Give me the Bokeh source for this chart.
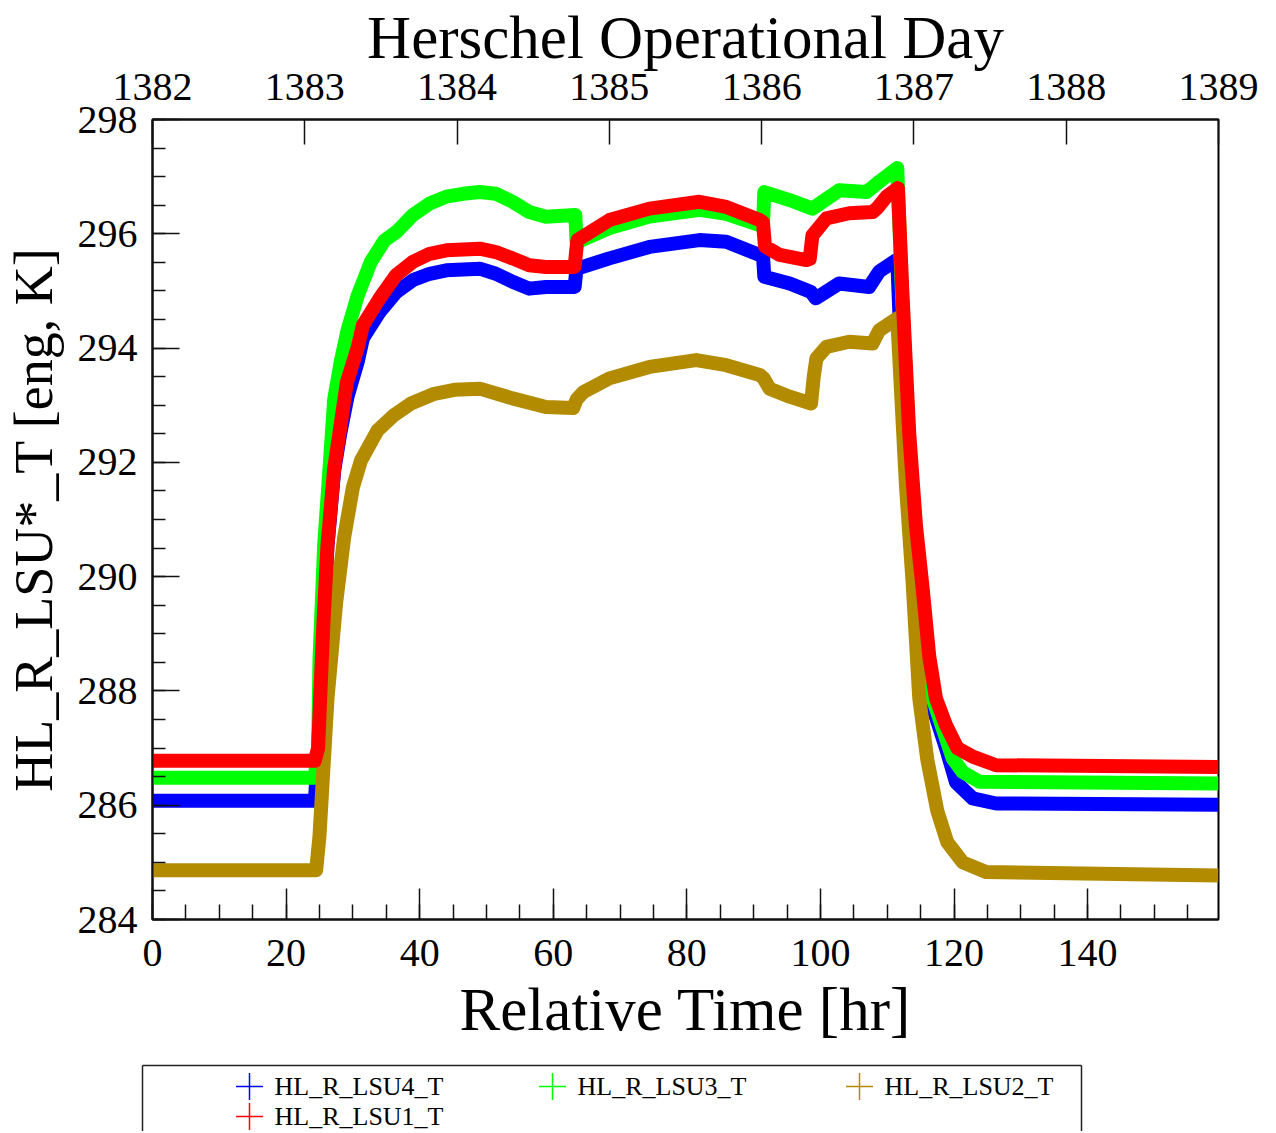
from bokeh.plotting import figure
from bokeh.models import (Range1d, LinearAxis, FixedTicker, SingleIntervalTicker,
                          ColumnDataSource)
from bokeh.embed import file_html
from bokeh.resources import INLINE
from bokeh.core.properties import value

# ---------------- data ----------------
lsu4_t = [0, 24.3, 24.8, 25.1, 25.6, 26.2, 27.2, 28.1, 29.2, 30.7,
          31.5, 34.0, 36.5, 39.0, 41.5, 44.0, 49.0, 51.4, 53.9, 56.4,
          58.9, 63.2, 63.4, 63.6, 68.4, 74.4, 81.9, 85.9, 90.9, 91.4,
          91.6, 95.4, 98.6, 99.3, 102.8, 107.3, 108.8, 111.5, 112.1, 113.3,
          114.8, 116.3, 118.8, 120.3, 122.8, 126.3, 159.6]
lsu4_T = [286.08, 286.08, 286.9, 287.87, 289.21, 290.55, 291.85, 292.5, 293.15, 293.75,
          294.17, 294.63, 294.98, 295.19, 295.30, 295.36, 295.39, 295.30, 295.16, 295.04,
          295.07, 295.07, 295.30, 295.39, 295.57, 295.77, 295.89, 295.86, 295.63, 295.62,
          295.25, 295.13, 294.98, 294.87, 295.13, 295.07, 295.34, 295.55, 293.8, 291.5,
          289.7, 287.9, 287.0, 286.4, 286.12, 286.03, 286.01]

lsu3_t = [0, 24.3, 24.8, 25.0, 25.7, 26.5, 27.2, 28.2, 29.2, 30.7,
          32.7, 34.7, 36.5, 39.0, 41.5, 44.0, 46.5, 49.0, 51.4, 53.9,
          56.4, 58.9, 63.3, 63.5, 68.4, 74.4, 81.9, 85.9, 90.9, 91.4,
          91.6, 95.4, 98.8, 102.8, 106.9, 108.8, 111.5, 112.2, 113.3, 114.3,
          115.3, 116.8, 119.8, 121.3, 123.8, 159.6]
lsu3_T = [286.48, 286.48, 287.0, 288.54, 290.55, 291.89, 293.10, 293.77, 294.31, 294.91,
          295.51, 295.88, 296.03, 296.33, 296.53, 296.65, 296.70, 296.73, 296.70, 296.56,
          296.38, 296.30, 296.33, 295.85, 296.10, 296.30, 296.42, 296.35, 296.15, 296.15,
          296.73, 296.59, 296.44, 296.76, 296.73, 296.91, 297.15, 295.0, 292.3, 290.7,
          289.5, 287.87, 286.82, 286.58, 286.41, 286.38]

lsu2_t = [0, 24.5, 25.0, 26.2, 27.5, 28.7, 30.0, 31.2, 33.7, 36.2,
          38.7, 42.2, 45.2, 49.0, 53.9, 58.9, 63.0, 63.5, 64.5, 68.4,
          74.4, 81.4, 85.9, 90.9, 91.5, 92.4, 95.4, 98.6, 99.0, 99.4,
          100.9, 104.3, 107.8, 108.8, 111.5, 112.0, 112.8, 113.8, 114.8, 116.0,
          117.5, 119.0, 121.3, 124.8, 159.6]
lsu2_T = [284.86, 284.86, 285.46, 287.87, 289.55, 290.69, 291.56, 292.03, 292.56, 292.83,
          293.03, 293.20, 293.27, 293.29, 293.12, 292.97, 292.95, 293.10, 293.23, 293.47,
          293.67, 293.79, 293.70, 293.53, 293.47, 293.29, 293.15, 293.03, 293.50, 293.82,
          294.02, 294.11, 294.08, 294.31, 294.52, 293.4, 291.6, 289.9, 287.87, 286.8,
          285.9, 285.35, 285.0, 284.83, 284.77]

lsu1_t = [0, 24.3, 24.8, 25.1, 25.6, 26.2, 27.2, 28.1, 29.1, 30.7,
          31.5, 34.0, 36.5, 39.0, 41.5, 44.0, 49.0, 51.4, 53.9, 56.4,
          58.9, 63.2, 63.6, 68.4, 74.4, 81.9, 85.9, 90.9, 91.4, 91.7,
          93.9, 97.9, 98.4, 98.8, 100.9, 104.3, 107.8, 108.5, 109.9, 111.6,
          112.3, 113.3, 114.3, 115.3, 116.3, 117.3, 118.8, 120.5, 122.8, 126.3,
          159.6]
lsu1_T = [286.78, 286.78, 287.0, 287.87, 289.21, 290.55, 291.89, 292.6, 293.4, 294.0,
          294.4, 294.87, 295.28, 295.51, 295.65, 295.71, 295.74, 295.68, 295.57, 295.45,
          295.42, 295.42, 295.89, 296.24, 296.44, 296.56, 296.47, 296.24, 296.20, 295.78,
          295.63, 295.54, 295.56, 295.97, 296.27, 296.36, 296.38, 296.45, 296.65, 296.80,
          294.9, 292.5, 290.9, 289.8, 288.6, 287.87, 287.4, 287.0, 286.85, 286.7,
          286.67]

series_names = ["HL_R_LSU4_T", "HL_R_LSU3_T", "HL_R_LSU2_T", "HL_R_LSU1_T"]
series_colors = ["#0000FF", "#00FF00", "#B38B00", "#FF0000"]
series_t = [lsu4_t, lsu3_t, lsu2_t, lsu1_t]
series_T = [lsu4_T, lsu3_T, lsu2_T, lsu1_T]

day_ticks = [1382, 1383, 1384, 1385, 1386, 1387, 1388, 1389]
x_title = "Relative Time [hr]"
y_title = "HL_R_LSU*_T [eng, K]"
top_title = "Herschel Operational Day"

FONT = "Liberation Serif"

# ---------------- main plot ----------------
p = figure(frame_width=1066, frame_height=800,
           x_range=Range1d(0, 159.6), y_range=Range1d(284, 298),
           x_axis_type=None, y_axis_type=None,
           output_backend="svg", toolbar_location=None,
           min_border_left=145, min_border_right=49,
           min_border_top=113, min_border_bottom=136)
p.outline_line_color = "black"
p.outline_line_width = 2
p.background_fill_color = "white"
p.border_fill_color = "white"
p.extra_x_ranges = {"day": Range1d(day_ticks[0], day_ticks[-1])}


def style_axis(ax, maj_in, min_in, title_size):
    ax.axis_line_color = "#111111"
    ax.axis_line_width = 2
    ax.major_tick_in = maj_in
    ax.major_tick_out = 0
    ax.minor_tick_in = min_in
    ax.minor_tick_out = 0
    ax.major_tick_line_color = "#111111"
    ax.major_tick_line_width = 1.5
    ax.minor_tick_line_color = "#111111"
    ax.minor_tick_line_width = 1.5
    ax.major_label_text_font = FONT
    ax.major_label_text_font_size = "40px"
    ax.major_label_text_color = "black"
    ax.axis_label_text_font = FONT
    ax.axis_label_text_font_size = title_size
    ax.axis_label_text_font_style = "normal"
    ax.axis_label_text_color = "black"


xb = LinearAxis(ticker=SingleIntervalTicker(interval=20, num_minor_ticks=4), axis_label=x_title)
style_axis(xb, 31, 15, "61px")
xb.major_label_standoff = 20
xb.axis_label_standoff = 7
p.add_layout(xb, "below")

yl = LinearAxis(ticker=SingleIntervalTicker(interval=2, num_minor_ticks=4), axis_label=y_title)
style_axis(yl, 27, 13, "54px")
yl.major_label_standoff = 15
yl.axis_label_standoff = 11
p.add_layout(yl, "left")

xt = LinearAxis(x_range_name="day", ticker=FixedTicker(ticks=day_ticks, minor_ticks=[]), axis_label=top_title)
style_axis(xt, 25, 0, "61px")
xt.major_label_standoff = 20
xt.axis_label_standoff = 0
p.add_layout(xt, "above")

for name, tt, TT, col in zip(series_names, series_t, series_T, series_colors):
    src = ColumnDataSource(dict(t=tt, T=TT))
    p.line("t", "T", source=src, line_color=col, line_width=14, line_join="round")

# ---------------- legend strip (second root; ranges in page pixels) ----------------
STRIP_W, STRIP_H = 1260, 76
CANVAS_X0, CANVAS_Y0 = 1, 1055          # where the strip's canvas lands on the page
lg = figure(width=STRIP_W, height=STRIP_H,
            x_range=Range1d(CANVAS_X0, CANVAS_X0 + STRIP_W),
            y_range=Range1d(CANVAS_Y0 + STRIP_H, CANVAS_Y0),
            x_axis_type=None, y_axis_type=None,
            output_backend="svg", toolbar_location=None,
            min_border_left=0, min_border_right=0, min_border_top=0, min_border_bottom=0)
lg.margin = (0, 0, -8, 0)
lg.outline_line_color = None
lg.background_fill_color = "white"
lg.border_fill_color = "white"

BOX_L, BOX_R, BOX_T = 143, 1082, 1065
BOX_END = CANVAS_Y0 + STRIP_H + 5
lg.segment(x0=[BOX_L, BOX_L, BOX_R], y0=[BOX_T, BOX_T, BOX_T],
           x1=[BOX_R, BOX_L, BOX_R], y1=[BOX_T, BOX_END, BOX_END],
           line_color="#222222", line_width=1.5)

col_x = [250, 553, 860]
row_y = [1086, 1116]
mx = [col_x[i % 3] for i in range(len(series_names))]
my = [row_y[i // 3] for i in range(len(series_names))]
lg.scatter(x=mx, y=my, marker="cross", size=27, line_color=series_colors, line_width=1.5)
lg.text(x=[v + 25 for v in mx], y=my, text=series_names,
        text_font=value(FONT), text_font_size="26px", text_baseline="middle",
        text_align="left", text_color="black")

open("out.html", "w").write(file_html([p, lg], INLINE))
